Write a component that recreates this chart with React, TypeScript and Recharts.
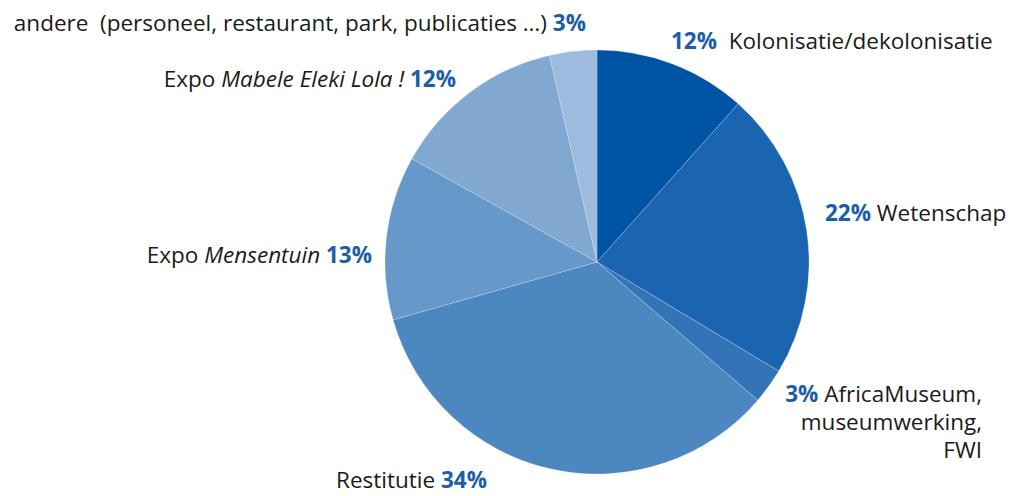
import React from "react";
import { PieChart, Pie, Cell } from "recharts";

const categories = [
  "Kolonisatie/dekolonisatie",
  "Wetenschap",
  "AfricaMuseum, museumwerking, FWI",
  "Restitutie",
  "Expo Mensentuin",
  "Expo Mabele Eleki Lola !",
  "andere (personeel, restaurant, park, publicaties …)",
];
const values = [11.6, 22.0, 2.7, 34.3, 12.5, 13.3, 3.6];
const percentLabels = ["12%", "22%", "3%", "34%", "13%", "12%", "3%"];

const colors = ["#0054A5", "#1B64AF", "#3374B8", "#4C87C0", "#6699CA", "#80A8D1", "#9DBBDE"];

const data = categories.map((name, i) => ({ name, value: values[i] }));

const FONT = "'Open Sans', Lato, sans-serif";
const FS = 22.5;
const TXT = "#1a1a1a";
const PCT = "#1B5EA8";

const renderLabel = (props: any) => {
  const { cx, cy, index } = props;
  const pct = (
    <tspan fill={PCT} fontWeight={700}>
      {percentLabels[index]}
    </tspan>
  );
  const common = {
    fontFamily: FONT,
    fontSize: FS,
    fill: TXT,
    style: { whiteSpace: "pre" as const },
  };
  switch (index) {
    case 0:
      return (
        <text key={index} x={cx + 74} y={cy - 213} textAnchor="start" {...common}>
          {pct}
          <tspan>{"  " + categories[0]}</tspan>
        </text>
      );
    case 1:
      return (
        <text key={index} x={cx + 228} y={cy - 41} textAnchor="start" {...common}>
          {pct}
          <tspan>{" " + categories[1]}</tspan>
        </text>
      );
    case 2: {
      const parts = categories[2].split(" ");
      return (
        <text key={index} x={cx + 385} y={cy + 140} textAnchor="end" {...common}>
          <tspan x={cx + 385}>
            {pct}
            <tspan>{" " + parts[0]}</tspan>
          </tspan>
          <tspan x={cx + 385} dy={28}>
            {parts[1]}
          </tspan>
          <tspan x={cx + 385} dy={28}>
            {parts[2]}
          </tspan>
        </text>
      );
    }
    case 3:
      return (
        <text key={index} x={cx - 261} y={cy + 226} textAnchor="start" {...common}>
          <tspan>{categories[3] + " "}</tspan>
          {pct}
        </text>
      );
    case 4: {
      const [pre, ...rest] = categories[4].split(" ");
      return (
        <text key={index} x={cx - 225} y={cy + 1} textAnchor="end" {...common}>
          <tspan>{pre + " "}</tspan>
          <tspan fontStyle="italic">{rest.join(" ")}</tspan>
          <tspan>{" "}</tspan>
          {pct}
        </text>
      );
    }
    case 5: {
      const [pre, ...rest] = categories[5].split(" ");
      return (
        <text key={index} x={cx - 141} y={cy - 175} textAnchor="end" {...common}>
          <tspan>{pre + " "}</tspan>
          <tspan fontStyle="italic">{rest.join(" ")}</tspan>
          <tspan>{" "}</tspan>
          {pct}
        </text>
      );
    }
    case 6: {
      const txt = categories[6].replace("andere ", "andere  ");
      return (
        <text key={index} x={cx - 11} y={cy - 231} textAnchor="end" {...common}>
          <tspan>{txt}</tspan>
          <tspan>{" "}</tspan>
          {pct}
        </text>
      );
    }
    default:
      return null;
  }
};

export default function App() {
  return (
    <PieChart width={1000} height={488}>
      <Pie
        data={data}
        dataKey="value"
        nameKey="name"
        cx={584}
        cy={249}
        outerRadius={212}
        startAngle={90}
        endAngle={-270}
        stroke="rgba(255,255,255,0.35)"
        strokeWidth={0.6}
        label={renderLabel}
        labelLine={false}
        isAnimationActive={false}
      >
        {data.map((d, i) => (
          <Cell key={d.name} fill={colors[i]} />
        ))}
      </Pie>
    </PieChart>
  );
}
